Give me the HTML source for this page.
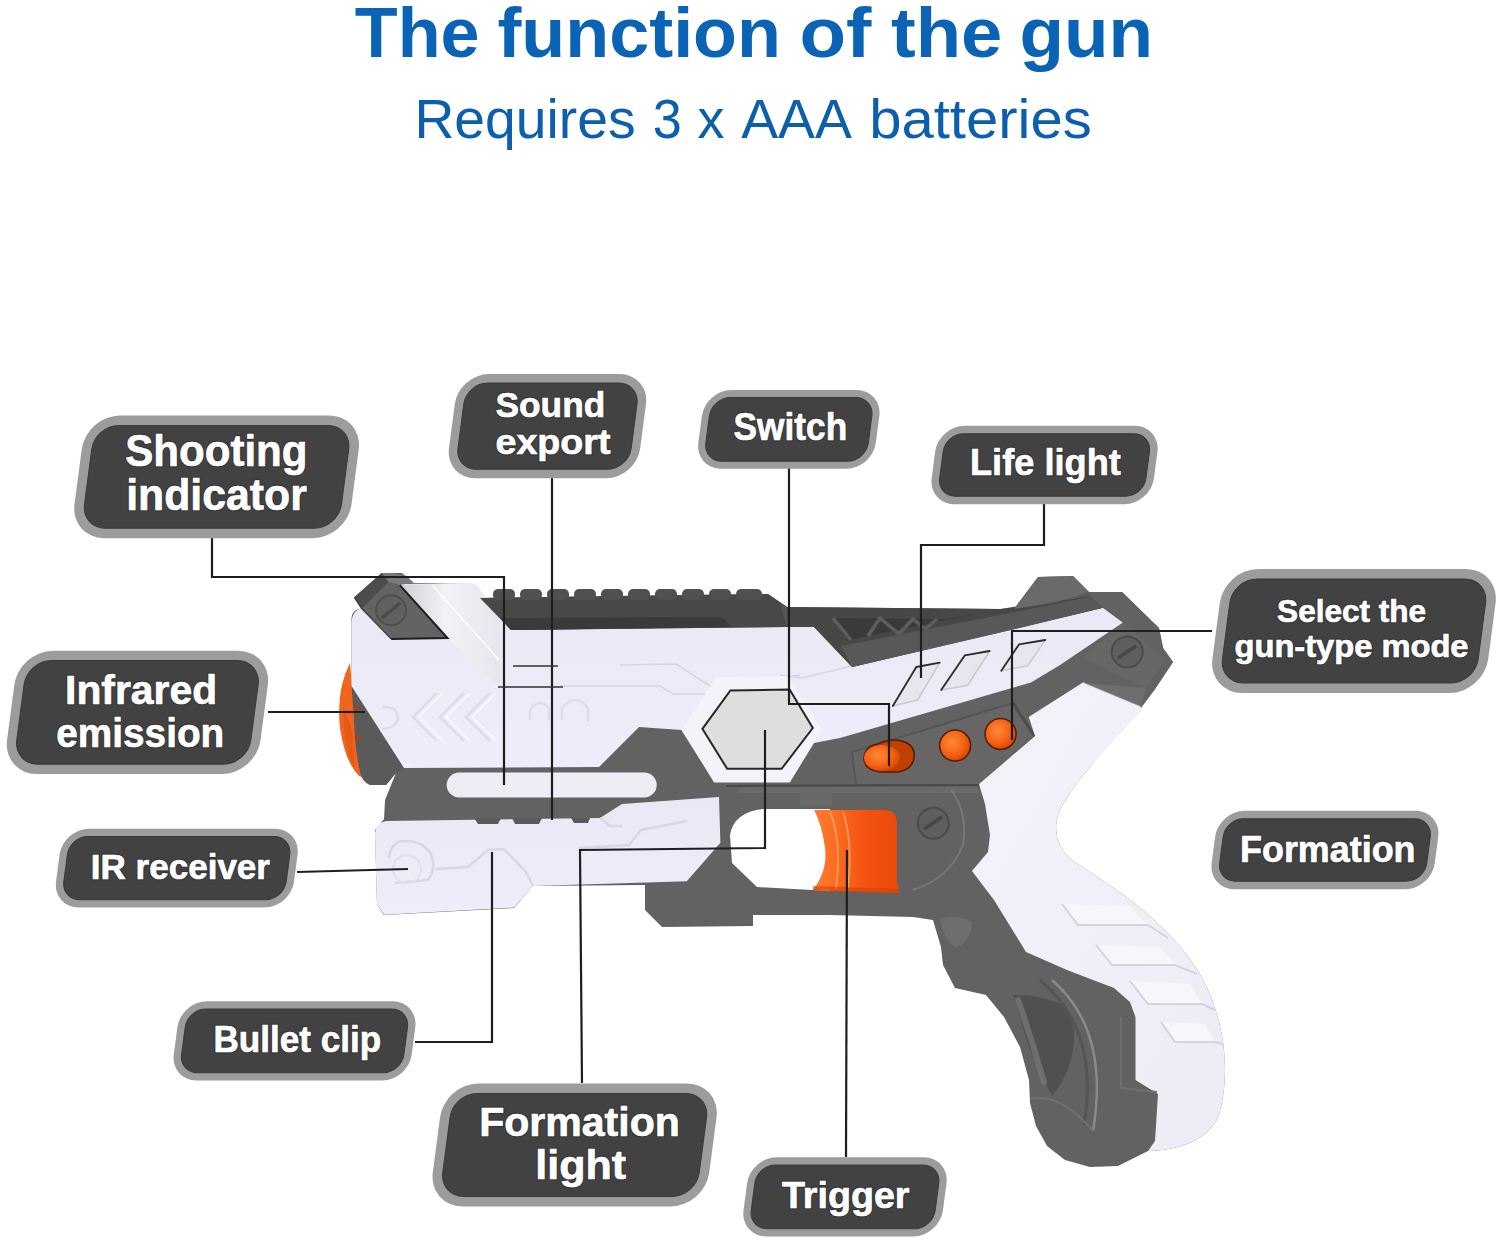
<!DOCTYPE html>
<html><head><meta charset="utf-8"><style>
html,body{margin:0;padding:0;background:#fff;width:1500px;height:1241px;overflow:hidden}
svg{position:absolute;left:0;top:0}
.lh{font-family:"Liberation Sans",sans-serif;font-weight:bold;fill:#2a2a2a;stroke:#2e2e2e;stroke-width:2.6px;stroke-linejoin:round;text-anchor:middle;opacity:0.8}
.lt{font-family:"Liberation Sans",sans-serif;font-weight:bold;fill:#fff;stroke:#fff;stroke-width:0.7px;text-anchor:middle}
.title{font-family:"Liberation Sans",sans-serif;font-weight:bold;fill:#0b63b6;text-anchor:middle}
.sub{font-family:"Liberation Sans",sans-serif;fill:#0b5fad;text-anchor:middle}
</style></head><body>
<svg width="1500" height="1241" viewBox="0 0 1500 1241">
<text class="title" x="417.2" y="57.4" font-size="70" textLength="124.8" lengthAdjust="spacingAndGlyphs">The</text>
<text class="title" x="639.2" y="57.4" font-size="70" textLength="283.6" lengthAdjust="spacingAndGlyphs">function</text>
<text class="title" x="835.4" y="57.4" font-size="70" textLength="72.0" lengthAdjust="spacingAndGlyphs">of</text>
<text class="title" x="946.7" y="57.4" font-size="70" textLength="111.4" lengthAdjust="spacingAndGlyphs">the</text>
<text class="title" x="1086.2" y="57.4" font-size="70" textLength="133.6" lengthAdjust="spacingAndGlyphs">gun</text>
<text class="sub" x="525.0" y="138" font-size="54.7" textLength="221.2" lengthAdjust="spacingAndGlyphs">Requires</text>
<text class="sub" x="667.3" y="138" font-size="54.7" textLength="29.0" lengthAdjust="spacingAndGlyphs">3</text>
<text class="sub" x="711.1" y="138" font-size="54.7" textLength="27.0" lengthAdjust="spacingAndGlyphs">x</text>
<text class="sub" x="796.5" y="138" font-size="54.7" textLength="110.6" lengthAdjust="spacingAndGlyphs">AAA</text>
<text class="sub" x="980.5" y="138" font-size="54.7" textLength="222.6" lengthAdjust="spacingAndGlyphs">batteries</text>
<defs>
<linearGradient id="gw" x1="0" y1="0" x2="0" y2="1"><stop offset="0" stop-color="#e9e8f4"/><stop offset="1" stop-color="#eeedfb"/></linearGradient>
<linearGradient id="gstrip" x1="0" y1="0" x2="1" y2="0"><stop offset="0" stop-color="#cfcfd4"/><stop offset="0.45" stop-color="#f1f1f6"/><stop offset="1" stop-color="#e6e6ee"/></linearGradient>
<linearGradient id="ggrip" x1="0" y1="0" x2="1" y2="1"><stop offset="0" stop-color="#f4f2f9"/><stop offset="1" stop-color="#efebf6"/></linearGradient>
<linearGradient id="gtr" x1="0" y1="0" x2="1" y2="0"><stop offset="0" stop-color="#ff7e34"/><stop offset="0.35" stop-color="#f8661c"/><stop offset="0.6" stop-color="#f45210"/><stop offset="1" stop-color="#ea4a08"/></linearGradient>
<radialGradient id="gor" cx="0.4" cy="0.4" r="0.7"><stop offset="0" stop-color="#ff8a3a"/><stop offset="0.6" stop-color="#f55f12"/><stop offset="1" stop-color="#c83c00"/></radialGradient>
</defs>
<!-- base dark silhouette -->
<path fill="#626262" d="M354.3,597.3 L381.6,573 L402,573 L413,583 L471,583 L480,590 L480,598 L768,594 L787,607 L1000,609 L1014,609 L1038,577 L1073,576 L1089,592 L1122,592 L1159,628 L1163,648 L1173,662 L1153,692 L1141,708 C1110,745 1070,785 1058,815 C1052,835 1060,855 1081,866 L1121,893 C1160,922 1200,960 1214,1005 C1226,1040 1229,1080 1219,1115 C1209,1140 1180,1150 1148,1151 L1118,1166 L1090,1167 L1065,1160 L1047,1146 L1036,1126 L1030,1103 L1029,1080 L1020,1047 L1004,1017 L986,995 L955,988 L943,965 L941,947 L933,920 L913,917 L830,915 L753,915 L753,926 L662,927 L645,910 L645,885 L533,886 L514,908 L384,915 L377,905 L375,830 L384,819 L385,800 L396,773 L386,785 L370,785 L361,776 L351.5,700 L351.5,618 Q352,609 361.7,608.5 L354.3,597.3 Z"/>
<!-- orange nozzle -->
<path fill="#f0641c" d="M350,663 Q336,690 340,728 Q345,762 359,776 Q365,779 362,770 L356,730 L352,686 Z"/>
<path fill="#d9500f" d="M343,705 Q343,745 355,770 L352,730 Z" opacity="0.5"/>
<path fill="#5a5a5a" d="M351.5,684 L405,768 L396,773 L386,785 L370,785 Q362,782 360,772 Q355,750 354,720 Z"/>
<path fill="#b84000" d="M355,706 L361,709 L355,712 Z M356,735 L362,738 L357,741 Z"/>
<!-- upper white body -->
<path fill="url(#gw)" d="M351.5,625 Q351.5,610 361.7,608.5 L400,584 L471,583 Q478,584 480,590 L511,630 L787,627 L814,627 L852,667 L1000,632.5 L1103,607.7 L1123,622.5 L1060,665 L1031,682.5 L840,738 L814,743 L790,782 L714,782 L682,730 L639,727 L599,767 L404,768 L351.5,686 Z"/>
<!-- creases -->
<g fill="none" stroke="#d6d5e3" stroke-width="1.5">
<path d="M780,675 L802,678 L852,666"/>
<path d="M620,665 L676,664 L710,686 L800,675"/>
<path d="M560,686 L660,686 L673,694 L706,694"/>
</g>
<g fill="none" stroke="#dedcea" stroke-width="2.5">
<path d="M437,693 L413,717 L437,741 M464,693 L440,717 L464,741 M490,693 L466,717 L490,741"/>
<path d="M382,707 Q398,706 398,718 Q396,728 382,729"/>
<path d="M530,720 L530,710 Q539,697 549,708 L549,720 M562,720 L562,708 Q575,692 588,708 L588,722"/>
</g>
<g fill="none" stroke="#f7f6fc" stroke-width="2">
<path d="M443,693 L419,717 L443,741 M470,693 L446,717 L470,741 M496,693 L472,717 L496,741"/>
</g>
<!-- top slide strip -->
<path fill="url(#gstrip)" d="M400,585 L471,583 Q478,584 480,590 L500,621 L500,686 L447,638 Z"/>
<path fill="none" stroke="#ffffff" stroke-width="1.5" d="M432,585 L499,660"/>
<!-- rear sight block -->
<path fill="#636363" d="M361.7,608.5 L388.5,581.7 L399.8,585.1 L447.5,638 L391.1,638.9 Z"/>
<path fill="#4c4c4c" d="M354.3,597.3 L381.6,573 L388.5,581.7 L361.7,608.5 Z"/>
<path fill="#7a7a7a" d="M381.6,573 L392,573 L405.9,575.6 L413.6,582.5 L399.8,585.1 L388.5,581.7 Z"/>
<path fill="none" stroke="#1e1e1e" stroke-width="2" d="M399.8,585.1 L447.5,638 L391.1,638.9"/>
<path fill="none" stroke="#3a3a3a" stroke-width="1.2" d="M354.3,597.3 L361.7,608.5 L391.1,638.9"/>
<circle cx="391.1" cy="610.3" r="15" fill="#606060" stroke="#4e4e4e" stroke-width="2"/>
<path stroke="#4a4a4a" stroke-width="3.5" d="M382,618 L400,603"/>
<!-- top rail -->
<path fill="#484848" d="M480,598 L768,594 L787,607 L787,627 L511,630 Z"/>
<path fill="#3a3a3a" d="M500,618 L722,617 L732,627 L511,630 Z"/>
<g fill="#505050">
<rect x="493" y="589" width="22" height="11" rx="5"/><rect x="520" y="589" width="22" height="11" rx="5"/><rect x="547" y="589" width="22" height="11" rx="5"/><rect x="574" y="589" width="22" height="11" rx="5"/><rect x="601" y="589" width="22" height="11" rx="5"/><rect x="628" y="589" width="22" height="11" rx="5"/><rect x="655" y="589" width="22" height="11" rx="5"/><rect x="682" y="589" width="22" height="11" rx="5"/><rect x="709" y="589" width="22" height="11" rx="5"/><rect x="736" y="589" width="22" height="11" rx="5"/><rect x="745" y="589" width="17" height="11" rx="5"/>
</g>
<path fill="#555" d="M780,604 L787,607 L814,627 L787,627 Z"/>
<!-- dark channel -->
<path fill="#474747" d="M787,607 L1000,609 L1089,596 L1103,607.7 L852,667 L814,627 L787,627 Z"/>
<path fill="#3a3a3a" d="M833,618 L946,619 L980,613 L850,640 Z"/>
<g fill="none" stroke="#5e5e5e" stroke-width="3.5" stroke-linejoin="round">
<path d="M833,618 L851,640"/>
<path d="M868,636 L880,618 L899,634 L913,619 L925,629 L937,619"/>
</g>
<path fill="#585858" d="M841,646 L1000,615 L1089,597 L1103,607.7 L1000,632.5 L852,667 Z"/>
<!-- rear fin -->
<path fill="#6a6a6a" d="M1014,609 L1038,577 L1073,576 L1089,592 L1075,597 L1052,603 Z"/>
<path fill="#5a5a5a" d="M1052,603 L1075,597 L1089,592 L1090,596 L1003,611 Z"/>
<!-- rear block -->
<path fill="#626262" d="M1089,592 L1122,592 L1159,628 L1163,648 L1173,662 L1153,692 L1146,688 L1135,706 L1083,683 L1123,622.5 L1103,607.7 Z"/>
<path fill="#6a6a6a" d="M1103,607.7 L1123,622.5 L1083,658 L1146,688 L1165,660 L1130,628 Z" opacity="0.6"/>
<circle cx="1127.3" cy="652" r="15.5" fill="#5e5e5e" stroke="#4b4b4b" stroke-width="2"/>
<path stroke="#474747" stroke-width="3.5" d="M1118,658 L1136,646"/>
<!-- side panel diamonds -->
<g fill="#e6e6ee" stroke="#c9c8d3" stroke-width="1.5" stroke-linejoin="round">
<path d="M892.8,706 L916.3,667 L939.7,662.7 L917.7,700 Z"/>
<path d="M941.2,690 L964.7,655.4 L989.6,651 L967.6,685.5 Z"/>
<path d="M1001.3,670.8 L1019,644.4 L1045.3,640 L1027.7,665.7 Z"/>
</g>
<g fill="none" stroke="#2e2e2e" stroke-width="1.8" stroke-linejoin="round" stroke-linecap="round">
<path d="M892.8,706 L916.3,667 L939.7,662.7"/>
<path d="M941.2,690 L964.7,655.4 L989.6,651"/>
<path d="M1001.3,670.8 L1019,644.4 L1045.3,640"/>
</g>
<!-- hexagon -->
<path fill="#f4f3fa" d="M681.6,730.4 L716,677.6 L786.4,676 L822,729 L789.6,782.4 L714.4,782.4 Z"/>
<path fill="#dededf" stroke="#262626" stroke-width="2" d="M702.4,728.8 L730.4,690.4 L789.6,689.6 L812.8,728 L781.6,768.8 L727.2,768.8 Z"/>
<!-- button panel -->
<path fill="#666" stroke="#565656" stroke-width="2" d="M852,752 L1013,703 L1035,737 L980,785 L856,785 Z"/>
<path fill="none" stroke="#4d4d4d" stroke-width="3" d="M1013,703 L1035,737 L980,785"/>
<!-- orange buttons -->
<circle cx="1000.6" cy="733.9" r="15.5" fill="url(#gor)" stroke="#5a1a00" stroke-width="1.5"/>
<circle cx="955.1" cy="745.6" r="15.5" fill="url(#gor)" stroke="#5a1a00" stroke-width="1.5"/>
<path fill="#c04000" stroke="#5a1a00" stroke-width="1.5" d="M878,744 Q890,738 902,741 Q916,745 914,758 Q912,770 898,772 L880,772 Q864,770 864,758 Q865,746 878,744 Z"/>
<ellipse cx="882" cy="758" rx="18" ry="13" fill="url(#gor)"/>
<!-- white slot -->
<rect x="446.7" y="772.5" width="210" height="25" rx="12.5" fill="#ededf5"/>
<!-- lower white body -->
<path fill="url(#gw)" d="M375,834 Q375,823 386,821 L600,818 L622,804 L719,797 L720.4,842.8 L686.8,881.2 L533.2,886 L514,907.6 L384.4,914.8 L377,905 Z"/>
<g fill="#5a5a5a"><path d="M474,818 L501,818 L498,824 L478,824 Z"/><path d="M512,818 L542,818 L539,824 L515,824 Z"/><path d="M571,818 L590,818 L588,823 L574,823 Z"/></g>
<g fill="none" stroke="#d8d7e5" stroke-width="2.5">
<path d="M435,869 L468,867 L488,850 L504,849 L526,872 L533,886"/>
<path d="M395,883 L428,880 Q437,868 430,852 Q418,838 398,842 Q390,846 389,858"/>
<path d="M579,848 L629,845 L641,830 L687,821"/>
<path d="M600,818 L610,826 L622,826"/>
</g>
<circle cx="407" cy="869" r="14" fill="none" stroke="#e0dfeb" stroke-width="2"/>
<path fill="#6e6e6e" d="M740,787 L976,787 L980,793 L737,793 Z" opacity="0.7"/>
<path fill="none" stroke="#4a4a4a" stroke-width="2" d="M726,786 L979,785"/>
<path fill="#777" d="M800,793 L832,793 L832,806 L800,806 Z" opacity="0.35"/>
<!-- trigger guard opening -->
<path fill="#ffffff" d="M763,809 L830,809 L830,891 L757,887 L732,863 L730,835 Q734,812 763,809 Z"/>
<!-- trigger -->
<path fill="url(#gtr)" d="M814,810 L887,810 Q897,812 897,823 L897,884 L900,893 L813,890 Q828,870 825,848 Q822,825 814,810 Z"/>
<path fill="none" stroke="#ffa060" stroke-width="2" d="M830,812 Q842,840 836,889 M843,812 Q853,840 848,889" opacity="0.8"/><path fill="#d84000" d="M813,886 L898,889 L900,893 L813,891 Z" opacity="0.6"/>
<!-- frame screw -->
<circle cx="933.3" cy="823.3" r="15.5" fill="#5e5e5e" stroke="#4b4b4b" stroke-width="2"/>
<path stroke="#474747" stroke-width="3.5" d="M924,829 L942,817"/>
<path fill="none" stroke="#777" stroke-width="2" d="M951,790 Q968,812 963,845 Q950,878 913,890"/>
<!-- grip white -->
<path fill="url(#ggrip)" d="M1028.7,717 L1083.3,682.3 L1140.7,706.3 L1141,711 C1110,745 1070,785 1058,815 C1052,835 1060,855 1081,866 L1121,893 C1160,922 1200,960 1214,1005 C1226,1040 1229,1080 1219,1115 C1209,1140 1180,1150 1148,1151 L1155,1141 L1158,1094 L1135.5,1080 L1135.5,1017 L1130,1002 L1114,988 L1067,970 L1026,952 L994,900 L972,871 L988,852 L990,835 L985,804 L979,784 L1035,736 Z"/>
<path fill="#7a7a7a" d="M1083,683 L1146,688 L1141,707 Z" opacity="0.5"/>
<!-- grip ridges -->
<g fill="#f7f6fb" stroke="none">
<path d="M1062,904 L1078,925 L1148,925 L1130,906 Z"/>
<path d="M1096,945 L1112,965 L1175,965 L1160,947 Z"/>
<path d="M1130,981 L1148,1004 L1202,1004 L1190,984 Z"/>
<path d="M1161,1022 L1175,1042 L1215,1042 L1205,1024 Z"/>
</g>
<g fill="none" stroke="#d6d3df" stroke-width="2">
<path d="M1062,904 L1078,925 L1148,925 L1168,938"/>
<path d="M1096,945 L1112,965 L1175,965 L1197,974"/>
<path d="M1130,981 L1148,1004 L1202,1004 L1215,1010"/>
<path d="M1161,1022 L1175,1042 L1215,1042 L1223,1044"/>
</g>
<!-- grip dark details -->
<path fill="#505050" d="M1013,995 Q1020,1015 1025,1035 Q1034,1062 1052,1096 Q1076,1066 1074,1030 Q1068,1005 1056,1002 Q1035,994 1013,995 Z"/>
<path fill="none" stroke="#7a7a7a" stroke-width="6" stroke-linecap="round" d="M1018,1000 Q1032,1040 1044,1082" opacity="0.7"/>
<path fill="none" stroke="#8a8a8a" stroke-width="2.5" d="M1052,980 Q1110,1030 1093,1131"/>
<path fill="none" stroke="#555" stroke-width="3" d="M1040,980 Q1100,1030 1084,1125"/>
<path fill="none" stroke="#6f6f6f" stroke-width="2" d="M1121,1017 L1121,1088 L1157,1092"/>
<path fill="none" stroke="#707070" stroke-width="2" d="M1030,1099 Q1060,1092 1093,1131"/>
<path fill="#6e6e6e" d="M940,919 Q958,914 972,922 Q970,945 955,947 Q944,940 940,919 Z"/>

<g fill="none" stroke="#1e1e1e" stroke-width="2.2">
<path d="M212,538 L212,577 L504,577 L504,785"/>
<path d="M552,478 L552,820"/>
<path d="M789,468 L789,704 L889,704 L889,766"/>
<path d="M1044,504 L1044,545 L921,545 L921,678"/>
<path d="M1212,631 L1012,631 L1012,740"/>
<path d="M268,712 L365,712"/>
<path d="M297,872 L408,869"/>
<path d="M415,1042 L492,1042 L492,852"/>
<path d="M582,1083 L580,850 L765,848 L765,730"/>
<path d="M846,1157 L847,850"/>
</g>
<g fill="none" stroke="#333" stroke-width="1.6">
<path d="M513,666 L558,666"/>
<path d="M498,687 L563,687"/>
</g>

<g transform="translate(216.6 476.8) skewX(-7.5)"><rect x="-138.5" y="-61.4" width="277.0" height="122.8" rx="34" fill="#9c9c9c"/><rect x="-128.5" y="-51.4" width="257.0" height="102.8" rx="24.0" fill="#424242" stroke="#3a3a3a" stroke-width="1"/></g>
<text x="216.4" y="466" font-size="44.7" textLength="182.2" lengthAdjust="spacingAndGlyphs" class="lh">Shooting</text>
<text x="216.4" y="466" font-size="44.7" textLength="182.2" lengthAdjust="spacingAndGlyphs" class="lt">Shooting</text>
<text x="216.5" y="509.8" font-size="44.7" textLength="180.6" lengthAdjust="spacingAndGlyphs" class="lh">indicator</text>
<text x="216.5" y="509.8" font-size="44.7" textLength="180.6" lengthAdjust="spacingAndGlyphs" class="lt">indicator</text>
<g transform="translate(547.5 426.1) skewX(-7.5)"><rect x="-95.6" y="-52.0" width="191.2" height="104.1" rx="30" fill="#9c9c9c"/><rect x="-86.6" y="-43.0" width="173.2" height="86.1" rx="21.0" fill="#424242" stroke="#3a3a3a" stroke-width="1"/></g>
<text x="550.4" y="417" font-size="35.8" textLength="109.8" lengthAdjust="spacingAndGlyphs" class="lh">Sound</text>
<text x="550.4" y="417" font-size="35.8" textLength="109.8" lengthAdjust="spacingAndGlyphs" class="lt">Sound</text>
<text x="553.0" y="453.7" font-size="35.8" textLength="115.0" lengthAdjust="spacingAndGlyphs" class="lh">export</text>
<text x="553.0" y="453.7" font-size="35.8" textLength="115.0" lengthAdjust="spacingAndGlyphs" class="lt">export</text>
<g transform="translate(788.8 429.4) skewX(-7.5)"><rect x="-88.7" y="-39.3" width="177.5" height="78.7" rx="26" fill="#9c9c9c"/><rect x="-81.2" y="-31.8" width="162.5" height="63.7" rx="18.5" fill="#424242" stroke="#3a3a3a" stroke-width="1"/></g>
<text x="790.4" y="440" font-size="38" textLength="113.7" lengthAdjust="spacingAndGlyphs" class="lh">Switch</text>
<text x="790.4" y="440" font-size="38" textLength="113.7" lengthAdjust="spacingAndGlyphs" class="lt">Switch</text>
<g transform="translate(1044.6 465.0) skewX(-7.5)"><rect x="-111.2" y="-39.2" width="222.3" height="78.4" rx="26" fill="#9c9c9c"/><rect x="-103.2" y="-31.2" width="206.3" height="62.4" rx="18.0" fill="#424242" stroke="#3a3a3a" stroke-width="1"/></g>
<text x="1045.4" y="475.3" font-size="36.5" textLength="150.8" lengthAdjust="spacingAndGlyphs" class="lh">Life light</text>
<text x="1045.4" y="475.3" font-size="36.5" textLength="150.8" lengthAdjust="spacingAndGlyphs" class="lt">Life light</text>
<g transform="translate(1354.0 631.0) skewX(-7.5)"><rect x="-137.9" y="-62.0" width="275.8" height="124.0" rx="34" fill="#9c9c9c"/><rect x="-127.9" y="-52.0" width="255.8" height="104.0" rx="24.0" fill="#424242" stroke="#3a3a3a" stroke-width="1"/></g>
<text x="1351.6" y="621.5" font-size="31" textLength="149.0" lengthAdjust="spacingAndGlyphs" class="lh">Select the</text>
<text x="1351.6" y="621.5" font-size="31" textLength="149.0" lengthAdjust="spacingAndGlyphs" class="lt">Select the</text>
<text x="1351.5" y="656.5" font-size="31" textLength="234.0" lengthAdjust="spacingAndGlyphs" class="lh">gun-type mode</text>
<text x="1351.5" y="656.5" font-size="31" textLength="234.0" lengthAdjust="spacingAndGlyphs" class="lt">gun-type mode</text>
<g transform="translate(137.5 712.4) skewX(-7.5)"><rect x="-126.8" y="-61.6" width="253.5" height="123.2" rx="34" fill="#9c9c9c"/><rect x="-117.1" y="-51.9" width="234.1" height="103.8" rx="24.3" fill="#424242" stroke="#3a3a3a" stroke-width="1"/></g>
<text x="141.1" y="703.5" font-size="40.5" textLength="152.1" lengthAdjust="spacingAndGlyphs" class="lh">Infrared</text>
<text x="141.1" y="703.5" font-size="40.5" textLength="152.1" lengthAdjust="spacingAndGlyphs" class="lt">Infrared</text>
<text x="140.3" y="746.8" font-size="40.5" textLength="168.0" lengthAdjust="spacingAndGlyphs" class="lh">emission</text>
<text x="140.3" y="746.8" font-size="40.5" textLength="168.0" lengthAdjust="spacingAndGlyphs" class="lt">emission</text>
<g transform="translate(176.8 868.1) skewX(-7.5)"><rect x="-119.0" y="-39.4" width="238.0" height="78.8" rx="26" fill="#9c9c9c"/><rect x="-111.2" y="-31.6" width="222.4" height="63.2" rx="18.2" fill="#424242" stroke="#3a3a3a" stroke-width="1"/></g>
<text x="180.4" y="878.9" font-size="35" textLength="179.2" lengthAdjust="spacingAndGlyphs" class="lh">IR receiver</text>
<text x="180.4" y="878.9" font-size="35" textLength="179.2" lengthAdjust="spacingAndGlyphs" class="lt">IR receiver</text>
<g transform="translate(294.6 1040.9) skewX(-7.5)"><rect x="-119.0" y="-39.6" width="237.9" height="79.2" rx="26" fill="#9c9c9c"/><rect x="-111.2" y="-31.8" width="222.3" height="63.6" rx="18.2" fill="#424242" stroke="#3a3a3a" stroke-width="1"/></g>
<text x="297.4" y="1052" font-size="37" textLength="167.9" lengthAdjust="spacingAndGlyphs" class="lh">Bullet clip</text>
<text x="297.4" y="1052" font-size="37" textLength="167.9" lengthAdjust="spacingAndGlyphs" class="lt">Bullet clip</text>
<g transform="translate(574.6 1144.9) skewX(-7.5)"><rect x="-138.2" y="-61.5" width="276.5" height="123.0" rx="34" fill="#9c9c9c"/><rect x="-128.2" y="-51.5" width="256.5" height="103.0" rx="24.0" fill="#424242" stroke="#3a3a3a" stroke-width="1"/></g>
<text x="579.5" y="1135.7" font-size="40.4" textLength="200.7" lengthAdjust="spacingAndGlyphs" class="lh">Formation</text>
<text x="579.5" y="1135.7" font-size="40.4" textLength="200.7" lengthAdjust="spacingAndGlyphs" class="lt">Formation</text>
<text x="580.7" y="1178.5" font-size="40.4" textLength="90.8" lengthAdjust="spacingAndGlyphs" class="lh">light</text>
<text x="580.7" y="1178.5" font-size="40.4" textLength="90.8" lengthAdjust="spacingAndGlyphs" class="lt">light</text>
<g transform="translate(845.0 1196.8) skewX(-7.5)"><rect x="-99.7" y="-39.5" width="199.4" height="79.1" rx="26" fill="#9c9c9c"/><rect x="-92.0" y="-31.8" width="184.0" height="63.7" rx="18.3" fill="#424242" stroke="#3a3a3a" stroke-width="1"/></g>
<text x="845.7" y="1207.5" font-size="36" textLength="127.6" lengthAdjust="spacingAndGlyphs" class="lh">Trigger</text>
<text x="845.7" y="1207.5" font-size="36" textLength="127.6" lengthAdjust="spacingAndGlyphs" class="lt">Trigger</text>
<g transform="translate(1325.0 850.0) skewX(-7.5)"><rect x="-111.6" y="-39.2" width="223.1" height="78.4" rx="26" fill="#9c9c9c"/><rect x="-103.6" y="-31.2" width="207.1" height="62.4" rx="18.0" fill="#424242" stroke="#3a3a3a" stroke-width="1"/></g>
<text x="1327.8" y="862" font-size="36.6" textLength="175.5" lengthAdjust="spacingAndGlyphs" class="lh">Formation</text>
<text x="1327.8" y="862" font-size="36.6" textLength="175.5" lengthAdjust="spacingAndGlyphs" class="lt">Formation</text>
</svg>
</body></html>
